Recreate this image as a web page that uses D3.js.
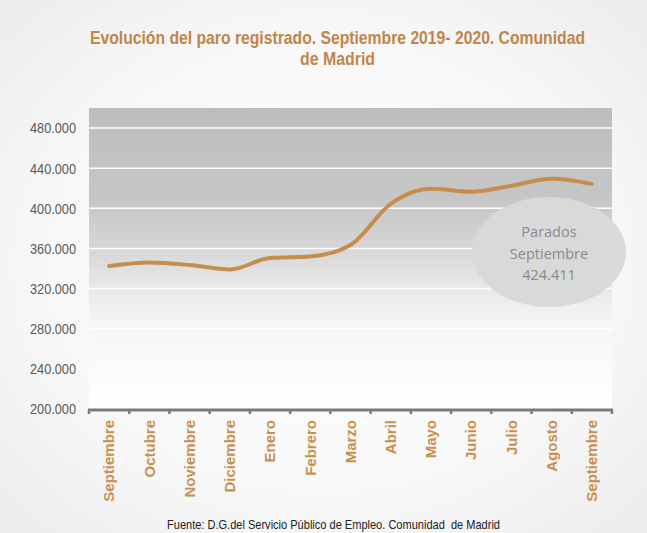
<!DOCTYPE html>
<html><head><meta charset="utf-8">
<script src="https://cdn.jsdelivr.net/npm/d3@7"></script>
<style>html,body{margin:0;padding:0;background:#fff;}</style>
</head><body>
<script>
const months = ["Septiembre","Octubre","Noviembre","Diciembre","Enero","Febrero","Marzo","Abril","Mayo","Junio","Julio","Agosto","Septiembre"];
const parados = [342500, 346000, 343500, 339000, 350500, 352000, 363500, 404500, 419500, 416500, 422500, 429500, 424411];
const yTicks = [200000, 240000, 280000, 320000, 360000, 400000, 440000, 480000];
const titleLines = ["Evolución del paro registrado. Septiembre 2019- 2020. Comunidad", "de Madrid"];
const bubbleLines = ["Parados", "Septiembre", "424.411"];
const source = "Fuente: D.G.del Servicio Público de Empleo. Comunidad  de Madrid";

(function(){
const W = 647, H = 533;
const svg = d3.select("body").append("svg").attr("width", W).attr("height", H);
const defs = svg.append("defs");

const rg = defs.append("radialGradient").attr("id","bg").attr("cx","50%").attr("cy","50%").attr("r","70%");
rg.append("stop").attr("offset","0%").attr("stop-color","#ffffff");
rg.append("stop").attr("offset","60%").attr("stop-color","#f8f8f8");
rg.append("stop").attr("offset","100%").attr("stop-color","#ececec");
svg.append("rect").attr("width",W).attr("height",H).attr("fill","url(#bg)");

const lg = defs.append("linearGradient").attr("id","plotbg").attr("x1",0).attr("y1",0).attr("x2",0).attr("y2",1);
[[0,"#bdbdbd"],[0.3,"#c6c6c6"],[0.45,"#d4d4d4"],[0.58,"#e6e6e6"],[0.72,"#f6f6f6"],[1,"#ffffff"]]
  .forEach(([o,c]) => lg.append("stop").attr("offset",o).attr("stop-color",c));

const pL = 89, pR = 612, pT = 108, pB = 409;
const x = d3.scaleBand().domain(d3.range(months.length)).range([pL, pR]);
const y = d3.scaleLinear().domain([200000, 500000]).range([pB, pT]);

svg.append("rect").attr("x",pL).attr("y",pT).attr("width",pR-pL).attr("height",pB-pT).attr("fill","url(#plotbg)");

// gridlines
svg.append("g").selectAll("line").data(yTicks.slice(1)).join("line")
  .attr("x1",pL).attr("x2",pR).attr("y1",d=>y(d)).attr("y2",d=>y(d))
  .attr("stroke","#ffffff").attr("stroke-width",1.5);

// y axis labels
const fmt = d => d3.format(",")(d).replace(/,/g,".");
const yAxis = d3.axisLeft(y).tickValues(yTicks).tickFormat(fmt).tickSize(0).tickPadding(0);
const gy = svg.append("g").attr("transform",`translate(${pL-13},0)`).call(yAxis);
gy.select(".domain").remove();
gy.selectAll("text").attr("font-family","'Liberation Sans',Arial,sans-serif")
  .attr("font-size","14px").attr("fill","#595959").attr("dy","0.35em")
  .attr("textLength",46).attr("lengthAdjust","spacingAndGlyphs");

// x axis
const xAxis = d3.axisBottom(x).tickFormat(i => months[i]).tickSize(0);
const gx = svg.append("g").attr("transform",`translate(0,${pB+1})`).call(xAxis);
gx.select(".domain").remove();
gx.selectAll(".tick line").remove();
gx.selectAll("text")
  .attr("transform","rotate(-90)")
  .attr("text-anchor","end")
  .attr("x",-10).attr("y",0).attr("dy","0.35em")
  .attr("font-family","'Liberation Sans',Arial,sans-serif").attr("font-weight","bold")
  .attr("font-size","15px").attr("fill","#c8904f");

svg.append("line").attr("x1",pL-1).attr("x2",pR+1).attr("y1",pB+1).attr("y2",pB+1)
  .attr("stroke","#7a7a7a").attr("stroke-width",3);
const tickPos = d3.range(months.length+1).map(i => i < months.length ? x(i) : x(months.length-1)+x.bandwidth());
svg.append("g").selectAll("line").data(tickPos).join("line")
  .attr("x1",d=>d).attr("x2",d=>d).attr("y1",pB+1).attr("y2",pB+5)
  .attr("stroke","#7a7a7a").attr("stroke-width",2.5);

// line
const line = d3.line().x((d,i)=>x(i)+x.bandwidth()/2).y(d=>y(d)).curve(d3.curveMonotoneX);
svg.append("path").datum(parados).attr("d",line).attr("fill","none")
  .attr("stroke","#c68d4c").attr("stroke-width",4).attr("stroke-linecap","round");

// bubble
const bx = 549, by = 252;
svg.append("ellipse").attr("cx",bx).attr("cy",by).attr("rx",77).attr("ry",55).attr("fill","#d9d9d9");
svg.append("g").selectAll("text").data(bubbleLines).join("text")
  .attr("x",bx).attr("y",(d,i)=>232+i*21.5).attr("dy","0.35em").attr("text-anchor","middle")
  .attr("font-family","'Open Sans','Liberation Sans',sans-serif").attr("font-size","14.5px")
  .attr("fill","#8a8a8a").text(d=>d);

// title
const tLens = [495, 75];
svg.append("g").selectAll("text").data(titleLines).join("text")
  .attr("x",337.5).attr("y",(d,i)=>38+i*21).attr("dy","0.35em").attr("text-anchor","middle")
  .attr("font-family","'Liberation Sans',Arial,sans-serif").attr("font-weight","bold")
  .attr("font-size","18.5px").attr("fill","#c0854a")
  .attr("textLength",(d,i)=>tLens[i]).attr("lengthAdjust","spacingAndGlyphs").text(d=>d);

// source
svg.append("text").attr("x",333.5).attr("y",524).attr("dy","0.35em").attr("text-anchor","middle")
  .attr("font-family","'Liberation Sans',Arial,sans-serif")
  .attr("font-size","13px").attr("fill","#222").style("white-space","pre")
  .attr("textLength",333).attr("lengthAdjust","spacingAndGlyphs").text(source);
})();
</script>
</body></html>
